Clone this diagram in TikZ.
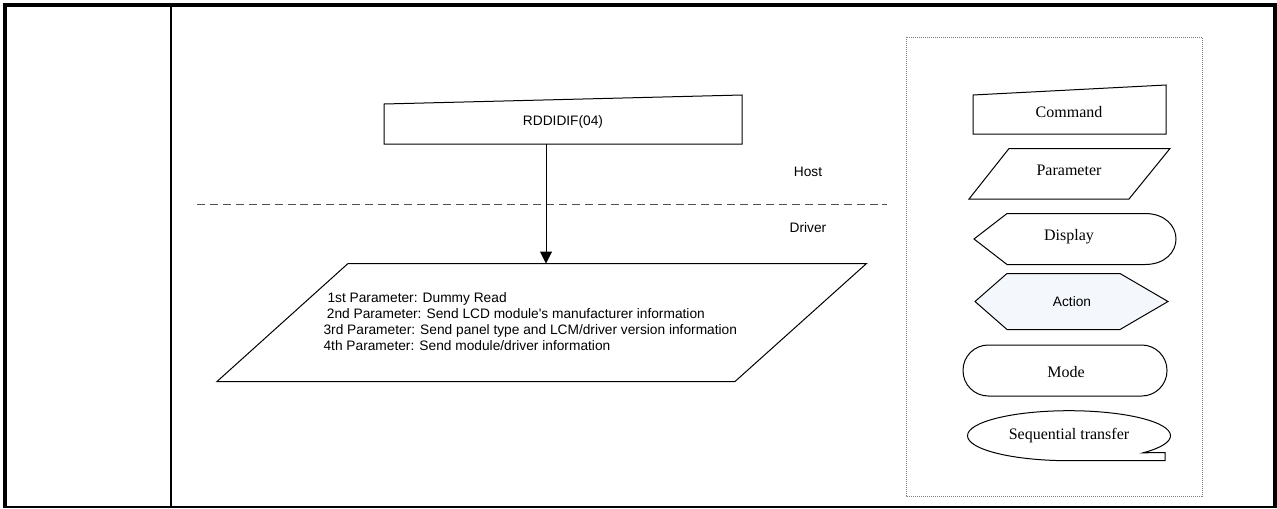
\documentclass[tikz,border=0pt]{standalone}
\usepackage{fontspec}
\setmainfont{Liberation Serif}
\setsansfont{Liberation Sans}
\usetikzlibrary{arrows.meta}
\definecolor{actfill}{RGB}{244,247,252}
\definecolor{sepgray}{RGB}{80,80,80}

\begin{document}
\begin{tikzpicture}[x=0.75pt, y=-0.75pt,
    shp/.style={draw=black, line width=0.75pt},
    txt/.style={inner sep=0pt, font=\sffamily\fontsize{10.3}{11.85}\selectfont},
    leg/.style={inner sep=0pt, font=\rmfamily\fontsize{12}{14}\selectfont}]

\useasboundingbox (0,0) rectangle (1277,508);

% =====================================================
% MARCO DE LA TABLA
% =====================================================
\draw[line width=3.5pt] (3,5) -- (1277,5);
\draw[line width=2.8pt] (5,3) -- (5,508);
\draw[line width=2.5pt] (1275,3) -- (1275,508);
\draw[line width=1.1pt] (3,507) -- (1277,507);
\draw[line width=1.5pt] (171,5) -- (171,508);

% =====================================================
% DIAGRAMA PRINCIPAL
% =====================================================

% --- Comando RDDIDIF(04) ---
\draw[shp] (384,104) -- (742,95) -- (742,144) -- (384,144) -- cycle;
\node[txt] (cmd) at (563,122) {RDDIDIF(04)};
\coordinate (cmdb) at (546,144);

% --- Separacion Host / Driver ---
\draw[sepgray, line width=0.75pt, dash pattern=on 6pt off 3.7pt]
    (197,204.5) -- (887,204.5);
\node[txt] (host) at (808,172) {Host};
\node[txt] (drv) at (808,228) {Driver};

% --- Parametros ---
\draw[shp] (348,263.5) -- (866.5,263.5) -- (735,381.5) -- (217,381.5) -- cycle;
\coordinate (part) at (546,263.5);
\node[txt, align=left, anchor=west] (partxt) at (323.3,321.5)
    {\hspace*{3pt}1st Parameter: Dummy Read\\
     \hspace*{2.5pt}2nd Parameter: Send LCD module\textquotesingle s manufacturer information\\
     3rd Parameter: Send panel type and LCM/driver version information\\
     4th Parameter: Send module/driver information};

% --- Flecha comando -> parametros ---
\draw[line width=0.75pt, -{Triangle[length=9pt, width=9pt]}] (cmdb) -- (part);

% =====================================================
% LEYENDA
% =====================================================
\draw[gray, line width=0.6pt, dash pattern=on 0.75pt off 0.75pt]
    (906,37) rectangle (1202,496);

% Command
\draw[shp] (973,95) -- (1166,85) -- (1166,134) -- (973,134) -- cycle;
\node[leg] (lcmd) at (1069,112) {Command};

% Parameter
\draw[shp] (1009,148.5) -- (1170,148.5) -- (1129,199) -- (969,199) -- cycle;
\node[leg] (lpar) at (1069,170) {Parameter};

% Display
\draw[shp] (974,239) -- (1007,213.5) -- (1145,213.5)
    .. controls (1165,213.5) and (1176,226) .. (1176,239)
    .. controls (1176,252) and (1165,264.5) .. (1145,264.5)
    -- (1007,264.5) -- cycle;
\node[leg] (ldisp) at (1069,237) {Display};

% Action
\draw[shp, fill=actfill] (975,301.5) -- (1007,273.5) -- (1120,273.5)
    -- (1168,301.5) -- (1120,329.5) -- (1007,329.5) -- cycle;
\node[txt] (lact) at (1072,301.5) {Action};

% Mode
\draw[shp, rounded corners=19pt] (963,345) rectangle (1167,396);
\node[leg] (lmode) at (1066,372) {Mode};

% Sequential transfer
\draw[shp] (1069,460.7) arc[start angle=90, end angle=403, x radius=101.5, y radius=25]
    -- (1165,452.7) -- (1165,460.7) -- cycle;
\node[leg] (lseq) at (1069,436) {Sequential transfer};

\end{tikzpicture}
\end{document}
